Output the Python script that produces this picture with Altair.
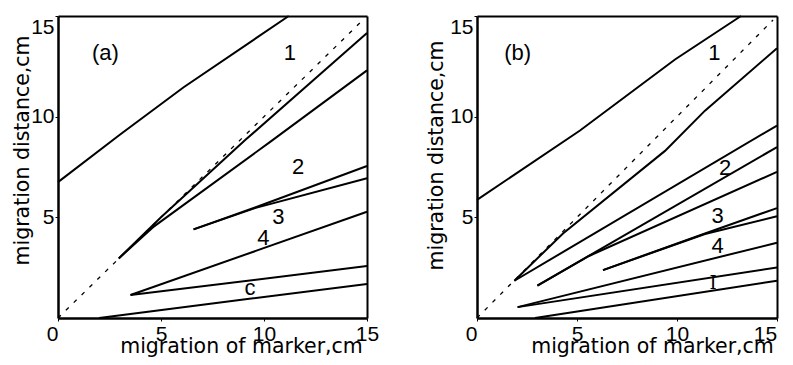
import altair as alt
import pandas as pd

# ---------------- panel (a) curves ----------------
a_top_x = [0.0, 3.0, 6.1, 11.2]
a_top_y = [6.75, 9.1, 11.46, 15.0]
a_1u_x = [2.95, 5.0, 9.1, 15.0]
a_1u_y = [2.96, 5.0, 8.85, 14.15]
a_1l_x = [2.95, 4.6, 10.3, 15.0]
a_1l_y = [2.96, 4.5, 8.75, 12.3]
a_2_x = [6.58, 9.6, 15.0]
a_2_y = [4.4, 5.5, 7.55]
a_3_x = [6.58, 9.6, 15.0]
a_3_y = [4.4, 5.47, 6.94]
a_4_x = [3.52, 15.0]
a_4_y = [1.14, 5.28]
a_c_x = [3.52, 15.0]
a_c_y = [1.14, 2.58]
a_bot_x = [2.0, 9.48, 15.0]
a_bot_y = [0.0, 0.98, 1.69]

# ---------------- panel (b) curves ----------------
b_top_x = [0.0, 5.15, 9.9, 13.2]
b_top_y = [5.87, 9.31, 12.84, 15.0]
b_1_x = [1.87, 4.3, 9.4, 11.4, 15.0]
b_1_y = [1.85, 4.2, 8.3, 10.3, 13.4]
b_2u_x = [1.87, 15.0]
b_2u_y = [1.85, 9.56]
b_2m_x = [3.02, 15.0]
b_2m_y = [1.61, 8.49]
b_2l_x = [3.02, 5.6, 15.0]
b_2l_y = [1.61, 3.08, 7.26]
b_3_x = [6.3, 11.4, 15.0]
b_3_y = [2.38, 4.2, 5.46]
b_4_x = [6.3, 11.4, 15.0]
b_4_y = [2.38, 4.17, 5.05]
b_5_x = [2.03, 15.0]
b_5_y = [0.54, 3.74]
b_6_x = [2.03, 15.0]
b_6_y = [0.54, 2.51]
b_bot_x = [2.9, 15.0]
b_bot_y = [0.0, 1.85]

# dashed diagonal (equal migration)
diag_x = [0.0, 14.8]
diag_y = [0.0, 14.8]

# annotations
a_lbl_text = ["(a)", "1", "2", "3", "4", "c"]
a_lbl_x = [2.3, 11.26, 11.66, 10.7, 9.97, 9.32]
a_lbl_y = [13.15, 13.15, 7.52, 5.03, 3.96, 1.47]
b_lbl_text = ["(b)", "1", "2", "3", "4"]
b_lbl_x = [2.03, 11.87, 12.4, 12.03, 12.03]
b_lbl_y = [13.17, 13.17, 7.45, 5.05, 3.57]
b_bar_text = ["I"]
b_bar_x = [11.8]
b_bar_y = [1.68]

x_ticks = [0, 5, 10, 15]
y_ticks = [5, 10, 15]

LBL_FONT = "Liberation Sans"
TTL_FONT = "DejaVu Sans"


def curves_df(curves):
    rows = []
    for name, xs, ys in curves:
        for i, (x, y) in enumerate(zip(xs, ys)):
            rows.append({"curve": name, "i": i, "x": x, "y": y})
    return pd.DataFrame(rows)


a_df = curves_df([
    ("top", a_top_x, a_top_y), ("1u", a_1u_x, a_1u_y), ("1l", a_1l_x, a_1l_y),
    ("2", a_2_x, a_2_y), ("3", a_3_x, a_3_y), ("4", a_4_x, a_4_y),
    ("c", a_c_x, a_c_y), ("bot", a_bot_x, a_bot_y),
])
b_df = curves_df([
    ("top", b_top_x, b_top_y), ("1", b_1_x, b_1_y), ("2u", b_2u_x, b_2u_y),
    ("2m", b_2m_x, b_2m_y), ("2l", b_2l_x, b_2l_y), ("3", b_3_x, b_3_y),
    ("4", b_4_x, b_4_y), ("5", b_5_x, b_5_y), ("6", b_6_x, b_6_y),
    ("bot", b_bot_x, b_bot_y),
])
diag_df = pd.DataFrame({"x": diag_x, "y": diag_y})


def panel(df, lbl_df, extra_df, w, h, title_x, ytitle_x, ytitle_y, last_shift):
    xs = alt.Scale(domain=[0, 15], nice=False)
    ys = alt.Scale(domain=[0, 15], nice=False)
    xaxis = alt.Axis(
        values=x_ticks, title="migration of marker,cm", grid=False,
        domain=True, domainColor="black", domainWidth=2.5,
        tickSize=3, tickColor="black", labelPadding=2, labelFont=LBL_FONT,
        labelFontSize=21, labelColor="black", labelFlush=False,
        labelAlign={"condition": {"test": "datum.value == 0", "value": "right"}, "value": "center"},
        labelOffset={"condition": {"test": "datum.value >= 15", "value": last_shift}, "value": 0},
        titleFont=TTL_FONT, titleFontSize=20.5, titleFontWeight="normal", titleColor="black",
        titleX=title_x, titleY=34, titleAlign="center", titleBaseline="alphabetic",
    )
    yaxis = alt.Axis(
        values=y_ticks, title="migration distance,cm", grid=False,
        domain=True, domainColor="black", domainWidth=2.5,
        tickSize=3, tickColor="black", labelPadding=1, labelFont=LBL_FONT,
        labelFontSize=21, labelColor="black", labelFlush=True,
        titleFont=TTL_FONT, titleFontSize=20.5, titleFontWeight="normal", titleColor="black",
        titleX=ytitle_x, titleY=ytitle_y, titleAlign="center", titleBaseline="alphabetic",
        titleAngle=270,
    )
    frame_x = alt.Axis(orient="top", labels=False, ticks=False, title=None, grid=False,
                       domainColor="black", domainWidth=2)
    frame_y = alt.Axis(orient="right", labels=False, ticks=False, title=None, grid=False,
                       domainColor="black", domainWidth=2)
    lines = alt.Chart(df).mark_line(color="black", strokeWidth=2).encode(
        x=alt.X("x:Q", scale=xs, axis=xaxis),
        y=alt.Y("y:Q", scale=ys, axis=yaxis),
        detail="curve:N",
        order="i:Q",
    )
    frame = alt.Chart(diag_df).mark_point(opacity=0).encode(
        x=alt.X("x:Q", scale=xs, axis=frame_x),
        y=alt.Y("y:Q", scale=ys, axis=frame_y),
    )
    diag = alt.Chart(diag_df).mark_line(
        color="black", strokeWidth=1.3, strokeDash=[4, 7]
    ).encode(x=alt.X("x:Q", scale=xs, axis=None), y=alt.Y("y:Q", scale=ys, axis=None))
    text = alt.Chart(lbl_df).mark_text(
        font=LBL_FONT, fontSize=22, color="black"
    ).encode(x=alt.X("x:Q", scale=xs, axis=None), y=alt.Y("y:Q", scale=ys, axis=None),
             text="t:N")
    layers = [lines, frame, diag, text]
    if extra_df is not None:
        layers.append(
            alt.Chart(extra_df).mark_text(font="DejaVu Serif", fontSize=18, color="black")
            .encode(x=alt.X("x:Q", scale=xs, axis=None), y=alt.Y("y:Q", scale=ys, axis=None),
                    text="t:N")
        )
    return alt.layer(*layers).resolve_axis(x="independent", y="independent").properties(
        width=w, height=h)


a_lbl = pd.DataFrame({"t": a_lbl_text, "x": a_lbl_x, "y": a_lbl_y})
b_lbl = pd.DataFrame({"t": b_lbl_text, "x": b_lbl_x, "y": b_lbl_y})
b_bar = pd.DataFrame({"t": b_bar_text, "x": b_bar_x, "y": b_bar_y})

pa = panel(a_df, a_lbl, None, 309, 302, 183, -30, 134, 0)
pb = panel(b_df, b_lbl, b_bar, 300, 302, 175, -35, 139, -12)

chart = alt.hconcat(pa, pb, spacing=46).properties(
    padding={"left": 3, "top": 4, "right": 0, "bottom": 0}
).configure_view(stroke=None)

chart.save("out.html", embed_options={"renderer": "svg", "actions": False})
